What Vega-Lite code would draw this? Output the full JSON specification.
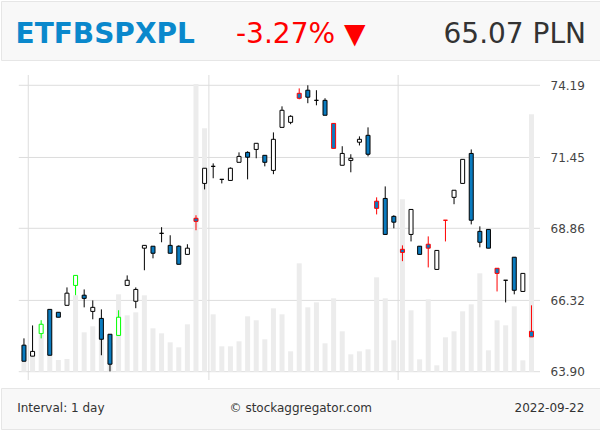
{
  "$schema": "https://vega.github.io/schema/vega-lite/v6.json",
  "padding": 0,
  "background": "#ffffff",
  "spacing": 6,
  "config": {"view": {"stroke": null}, "font": "DejaVu Sans"},
  "datasets": {
    "candles": [
      {"date": "2022-06-30", "i": 1, "open": 64.79, "high": 65.02, "low": 64.25, "close": 64.25, "volume": 1870, "edge": "plain"},
      {"date": "2022-07-01", "i": 2, "open": 64.42, "high": 65.46, "low": 64.42, "close": 64.58, "volume": 1870, "edge": "plain"},
      {"date": "2022-07-04", "i": 3, "open": 65.18, "high": 65.64, "low": 65.02, "close": 65.50, "volume": 3670, "edge": "bull"},
      {"date": "2022-07-05", "i": 4, "open": 66.01, "high": 66.01, "low": 64.45, "close": 64.45, "volume": 2870, "edge": "plain"},
      {"date": "2022-07-06", "i": 5, "open": 65.91, "high": 65.91, "low": 65.74, "close": 65.74, "volume": 1170, "edge": "plain"},
      {"date": "2022-07-07", "i": 6, "open": 66.15, "high": 66.77, "low": 66.15, "close": 66.57, "volume": 1270, "edge": "plain"},
      {"date": "2022-07-08", "i": 7, "open": 66.84, "high": 67.19, "low": 66.50, "close": 67.19, "volume": 7640, "edge": "bull"},
      {"date": "2022-07-11", "i": 8, "open": 66.50, "high": 66.70, "low": 66.08, "close": 66.39, "volume": 3940, "edge": "plain"},
      {"date": "2022-07-12", "i": 9, "open": 65.94, "high": 66.32, "low": 65.67, "close": 66.08, "volume": 4540, "edge": "plain"},
      {"date": "2022-07-13", "i": 10, "open": 65.70, "high": 66.01, "low": 64.45, "close": 64.99, "volume": 3870, "edge": "plain"},
      {"date": "2022-07-14", "i": 11, "open": 65.16, "high": 65.16, "low": 63.91, "close": 64.15, "volume": 2870, "edge": "plain"},
      {"date": "2022-07-15", "i": 12, "open": 65.12, "high": 65.98, "low": 65.12, "close": 65.74, "volume": 7740, "edge": "bull"},
      {"date": "2022-07-18", "i": 13, "open": 66.84, "high": 67.19, "low": 66.84, "close": 67.02, "volume": 5640, "edge": "plain"},
      {"date": "2022-07-19", "i": 14, "open": 66.29, "high": 66.77, "low": 66.05, "close": 66.70, "volume": 5940, "edge": "plain"},
      {"date": "2022-07-20", "i": 15, "open": 68.15, "high": 68.25, "low": 67.37, "close": 68.25, "volume": 7640, "edge": "plain"},
      {"date": "2022-07-21", "i": 16, "open": 68.22, "high": 68.22, "low": 67.79, "close": 67.97, "volume": 4340, "edge": "plain"},
      {"date": "2022-07-22", "i": 17, "open": 68.68, "high": 68.90, "low": 68.36, "close": 68.68, "volume": 3840, "edge": "plain"},
      {"date": "2022-07-25", "i": 18, "open": 68.25, "high": 68.61, "low": 67.97, "close": 67.97, "volume": 2940, "edge": "plain"},
      {"date": "2022-07-26", "i": 19, "open": 68.22, "high": 68.25, "low": 67.58, "close": 67.58, "volume": 2440, "edge": "plain"},
      {"date": "2022-07-27", "i": 20, "open": 67.93, "high": 68.29, "low": 67.93, "close": 68.15, "volume": 4740, "edge": "plain"},
      {"date": "2022-07-28", "i": 21, "open": 69.22, "high": 69.33, "low": 68.79, "close": 69.11, "volume": 28770, "edge": "bear"},
      {"date": "2022-07-29", "i": 22, "open": 70.49, "high": 71.05, "low": 70.27, "close": 71.05, "volume": 24340, "edge": "plain"},
      {"date": "2022-08-01", "i": 23, "open": 71.12, "high": 71.23, "low": 70.68, "close": 71.12, "volume": 5740, "edge": "plain"},
      {"date": "2022-08-02", "i": 24, "open": 70.64, "high": 70.64, "low": 70.49, "close": 70.64, "volume": 2540, "edge": "plain"},
      {"date": "2022-08-03", "i": 25, "open": 70.60, "high": 71.08, "low": 70.60, "close": 71.05, "volume": 2540, "edge": "plain"},
      {"date": "2022-08-04", "i": 26, "open": 71.27, "high": 71.64, "low": 71.27, "close": 71.49, "volume": 3040, "edge": "plain"},
      {"date": "2022-08-05", "i": 27, "open": 71.64, "high": 71.68, "low": 70.64, "close": 71.46, "volume": 5540, "edge": "plain"},
      {"date": "2022-08-08", "i": 28, "open": 71.75, "high": 71.98, "low": 71.42, "close": 71.98, "volume": 5140, "edge": "plain"},
      {"date": "2022-08-09", "i": 29, "open": 71.53, "high": 71.53, "low": 71.12, "close": 71.27, "volume": 3240, "edge": "plain"},
      {"date": "2022-08-10", "i": 30, "open": 70.97, "high": 72.39, "low": 70.83, "close": 72.13, "volume": 6340, "edge": "plain"},
      {"date": "2022-08-11", "i": 31, "open": 72.58, "high": 73.38, "low": 72.58, "close": 73.23, "volume": 5740, "edge": "plain"},
      {"date": "2022-08-12", "i": 32, "open": 72.77, "high": 73.04, "low": 72.70, "close": 73.00, "volume": 2040, "edge": "plain"},
      {"date": "2022-08-16", "i": 33, "open": 73.88, "high": 74.07, "low": 73.65, "close": 73.69, "volume": 10840, "edge": "bear"},
      {"date": "2022-08-17", "i": 34, "open": 74.00, "high": 74.19, "low": 73.50, "close": 73.73, "volume": 6440, "edge": "plain"},
      {"date": "2022-08-18", "i": 35, "open": 73.61, "high": 74.00, "low": 73.42, "close": 73.61, "volume": 6940, "edge": "plain"},
      {"date": "2022-08-19", "i": 36, "open": 73.61, "high": 73.69, "low": 73.04, "close": 73.04, "volume": 2840, "edge": "plain"},
      {"date": "2022-08-22", "i": 37, "open": 72.73, "high": 72.73, "low": 71.79, "close": 71.79, "volume": 7340, "edge": "bear"},
      {"date": "2022-08-23", "i": 38, "open": 71.16, "high": 71.87, "low": 71.16, "close": 71.60, "volume": 4040, "edge": "plain"},
      {"date": "2022-08-24", "i": 39, "open": 71.34, "high": 71.57, "low": 70.90, "close": 71.42, "volume": 1740, "edge": "plain"},
      {"date": "2022-08-25", "i": 40, "open": 72.02, "high": 72.24, "low": 71.90, "close": 72.13, "volume": 2040, "edge": "plain"},
      {"date": "2022-08-26", "i": 41, "open": 72.28, "high": 72.58, "low": 71.49, "close": 71.57, "volume": 2240, "edge": "plain"},
      {"date": "2022-08-29", "i": 42, "open": 69.84, "high": 69.98, "low": 69.36, "close": 69.58, "volume": 9440, "edge": "bear"},
      {"date": "2022-08-30", "i": 43, "open": 69.94, "high": 70.38, "low": 68.64, "close": 68.64, "volume": 7340, "edge": "plain"},
      {"date": "2022-08-31", "i": 44, "open": 69.29, "high": 69.33, "low": 68.86, "close": 69.08, "volume": 3140, "edge": "plain"},
      {"date": "2022-09-01", "i": 45, "open": 68.11, "high": 68.25, "low": 67.69, "close": 68.00, "volume": 17240, "edge": "bear"},
      {"date": "2022-09-02", "i": 46, "open": 68.64, "high": 69.54, "low": 68.39, "close": 69.54, "volume": 6140, "edge": "plain"},
      {"date": "2022-09-05", "i": 47, "open": 68.22, "high": 68.22, "low": 67.93, "close": 67.93, "volume": 1240, "edge": "plain"},
      {"date": "2022-09-06", "i": 48, "open": 68.29, "high": 68.57, "low": 67.47, "close": 68.15, "volume": 7240, "edge": "bear"},
      {"date": "2022-09-07", "i": 49, "open": 67.40, "high": 68.07, "low": 67.40, "close": 68.07, "volume": 640, "edge": "plain"},
      {"date": "2022-09-08", "i": 50, "open": 69.15, "high": 69.15, "low": 68.39, "close": 69.15, "volume": 3440, "edge": "bear"},
      {"date": "2022-09-09", "i": 51, "open": 69.98, "high": 70.24, "low": 69.73, "close": 70.24, "volume": 4040, "edge": "plain"},
      {"date": "2022-09-12", "i": 52, "open": 70.49, "high": 71.38, "low": 70.49, "close": 71.38, "volume": 6040, "edge": "plain"},
      {"date": "2022-09-13", "i": 53, "open": 71.60, "high": 71.75, "low": 69.00, "close": 69.15, "volume": 6740, "edge": "plain"},
      {"date": "2022-09-14", "i": 54, "open": 68.75, "high": 68.93, "low": 68.18, "close": 68.36, "volume": 9840, "edge": "plain"},
      {"date": "2022-09-15", "i": 55, "open": 68.82, "high": 68.82, "low": 68.15, "close": 68.15, "volume": 2140, "edge": "plain"},
      {"date": "2022-09-16", "i": 56, "open": 67.44, "high": 67.44, "low": 66.63, "close": 67.26, "volume": 5140, "edge": "bear"},
      {"date": "2022-09-19", "i": 57, "open": 67.02, "high": 67.02, "low": 66.25, "close": 67.02, "volume": 4640, "edge": "plain"},
      {"date": "2022-09-20", "i": 58, "open": 67.83, "high": 67.83, "low": 66.53, "close": 66.67, "volume": 6540, "edge": "plain"},
      {"date": "2022-09-21", "i": 59, "open": 66.63, "high": 67.26, "low": 66.63, "close": 67.26, "volume": 1140, "edge": "plain"},
      {"date": "2022-09-22", "i": 60, "open": 65.26, "high": 66.15, "low": 65.07, "close": 65.07, "volume": 25740, "edge": "bear"}
    ]
  },
  "vconcat": [
    {
      "width": 600,
      "height": 59,
      "view": {"fill": "#f8f8f8", "stroke": "#e6e6e6"},
      "data": {"values": [
        {"slot": "symbol", "label": "ETFBSPXPL"},
        {"slot": "change", "label": "-3.27% ▼"},
        {"slot": "price", "label": "65.07 PLN"}
      ]},
      "encoding": {
        "x": {"field": "slot", "type": "nominal", "scale": {"type": "point", "domain": ["symbol", "change", "price"], "range": [14.5, 585], "padding": 0},
              "axis": {"orient": "bottom", "labels": false, "ticks": false, "domain": false, "grid": false, "title": null, "minExtent": 7, "maxExtent": 7}},
        "text": {"field": "label"}
      },
      "layer": [
        {"transform": [{"filter": "datum.slot == 'symbol'"}], "mark": {"type": "text", "align": "left", "baseline": "alphabetic", "dy": 12.5, "fontSize": 28, "fontWeight": "bold", "color": "#0a88cc"}},
        {"transform": [{"filter": "datum.slot == 'change'"}], "mark": {"type": "text", "align": "center", "baseline": "alphabetic", "dy": 12.5, "fontSize": 28, "color": "#ff0000"}},
        {"transform": [{"filter": "datum.slot == 'price'"}], "mark": {"type": "text", "align": "right", "baseline": "alphabetic", "dy": 12.5, "fontSize": 28, "color": "#333333"}}
      ]
    },
    {
      "width": 544,
      "height": 305,
      "data": {"name": "candles"},
      "layer": [
        {
          "data": {"values": [{"tick": 63.9}, {"tick": 66.32}, {"tick": 68.86}, {"tick": 71.45}, {"tick": 74.19}]},
          "mark": {"type": "rule", "color": "#dddddd", "strokeWidth": 1},
          "encoding": {
            "x": {"datum": 0.3952, "type": "quantitative", "scale": {"domain": [-1.0884, 60.993], "nice": false, "zero": false}, "axis": null},
            "x2": {"datum": 60.993},
            "y": {"field": "tick", "type": "quantitative", "scale": {"type": "log", "domain": [63.624, 74.589], "nice": false, "zero": false}, "axis": null}
          }
        },
        {
          "data": {"values": [{"boundary": 1.5}, {"boundary": 22.5}, {"boundary": 44.5}]},
          "mark": {"type": "rule", "color": "#dddddd", "strokeWidth": 1},
          "encoding": {
            "x": {"field": "boundary", "type": "quantitative", "scale": {"domain": [-1.0884, 60.993], "nice": false, "zero": false}, "axis": null}
          }
        },
        {
          "mark": {"type": "bar", "size": 5, "color": "#ececec"},
          "encoding": {
            "x": {"field": "i", "type": "quantitative", "scale": {"domain": [-1.0884, 60.993], "nice": false, "zero": false}, "axis": null},
            "y": {"field": "volume", "type": "quantitative", "scale": {"domain": [-830, 29670], "nice": false, "zero": false}, "axis": null},
            "y2": {"datum": 0}
          }
        },
        {
          "mark": {"type": "rule", "strokeWidth": 1},
          "encoding": {
            "x": {"field": "i", "type": "quantitative", "scale": {"domain": [-1.0884, 60.993], "nice": false, "zero": false},
                  "axis": {"orient": "bottom", "values": [12, 33.5, 52.5], "labelExpr": "datum.value < 20 ? 'Jul' : datum.value < 40 ? 'Aug' : 'Sep'", "grid": false, "ticks": false, "domain": false, "labelPadding": 4, "labelBaseline": "alphabetic", "labelFontSize": 12, "labelColor": "#333333", "labelFont": "DejaVu Sans", "title": null, "labelFlush": false, "labelOverlap": false}},
            "y": {"field": "low", "type": "quantitative", "scale": {"type": "log", "domain": [63.624, 74.589], "nice": false, "zero": false},
                  "axis": {"orient": "right", "values": [63.9, 66.32, 68.86, 71.45, 74.19], "format": ".2f", "grid": false, "ticks": false, "domain": false, "labelPadding": 5, "labelFontSize": 12, "labelColor": "#444444", "labelFont": "DejaVu Sans", "title": null, "labelFlush": false, "labelOverlap": false}},
            "y2": {"field": "high"},
            "color": {"field": "edge", "type": "nominal", "scale": {"domain": ["plain", "bear", "bull"], "range": ["#000000", "#ff0000", "#00ff00"]}, "legend": null}
          }
        },
        {
          "mark": {"type": "bar", "size": 4, "strokeWidth": 1},
          "encoding": {
            "x": {"field": "i", "type": "quantitative", "scale": {"domain": [-1.0884, 60.993], "nice": false, "zero": false}, "axis": null},
            "y": {"field": "open", "type": "quantitative", "scale": {"type": "log", "domain": [63.624, 74.589], "nice": false, "zero": false}, "axis": null},
            "y2": {"field": "close"},
            "fill": {"condition": {"test": "datum.close < datum.open", "value": "#0a7bbf"}, "value": "#ffffff"},
            "stroke": {"field": "edge", "type": "nominal", "scale": {"domain": ["plain", "bear", "bull"], "range": ["#000000", "#ff0000", "#00ff00"]}, "legend": null}
          }
        }
      ],
      "resolve": {"scale": {"y": "independent"}}
    },
    {
      "width": 600,
      "height": 41,
      "view": {"fill": "#f8f8f8", "stroke": "#e6e6e6"},
      "data": {"values": [
        {"slot": "interval", "label": "Interval: 1 day"},
        {"slot": "source", "label": "© stockaggregator.com"},
        {"slot": "asof", "label": "2022-09-22"}
      ]},
      "encoding": {
        "x": {"field": "slot", "type": "nominal", "scale": {"type": "point", "domain": ["interval", "source", "asof"], "range": [16.2, 583.3], "padding": 0}, "axis": null},
        "text": {"field": "label"}
      },
      "layer": [
        {"transform": [{"filter": "datum.slot == 'interval'"}], "mark": {"type": "text", "align": "left", "baseline": "alphabetic", "dy": 3.8, "fontSize": 12, "color": "#333333"}},
        {"transform": [{"filter": "datum.slot == 'source'"}], "mark": {"type": "text", "align": "center", "baseline": "alphabetic", "dy": 3.8, "fontSize": 12, "color": "#333333"}},
        {"transform": [{"filter": "datum.slot == 'asof'"}], "mark": {"type": "text", "align": "right", "baseline": "alphabetic", "dy": 3.8, "fontSize": 12, "color": "#333333"}}
      ]
    }
  ]
}
